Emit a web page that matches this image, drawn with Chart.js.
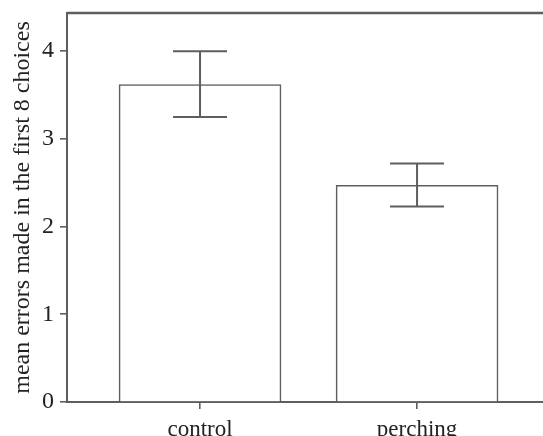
<!DOCTYPE html>
<html>
<head>
<meta charset="utf-8">
<script src="https://cdn.jsdelivr.net/npm/chart.js@4"></script>
<style>
  html, body { margin: 0; padding: 0; background: #fff; overflow: hidden; }
  #wrap { position: relative; width: 600px; height: 436px; }
</style>
</head>
<body>
<div id="wrap"><canvas id="chart"></canvas></div>
<script>
// Datos
const categories = ['control', 'perching'];
const means = [3.62, 2.47];
const errLow = [3.25, 2.23];
const errHigh = [4.0, 2.72];
const yTicks = [0, 1, 2, 3, 4];

const lineColor = '#5e5e5e';
const textColor = '#222';
const serif = "'Liberation Serif', 'Times New Roman', serif";

// Barras de error y marco superior
const errorBars = {
    id: 'errorBars',
    afterDatasetsDraw(chart) {
        const ctx = chart.ctx;
        const xs = chart.scales.x, ys = chart.scales.y;
        ctx.save();
        ctx.strokeStyle = lineColor;
        ctx.lineWidth = 2;
        for (let i = 0; i < means.length; i++) {
            const x = xs.getPixelForValue(i);
            const lo = ys.getPixelForValue(errLow[i]);
            const hi = ys.getPixelForValue(errHigh[i]);
            ctx.beginPath();
            ctx.moveTo(x, lo); ctx.lineTo(x, hi);
            ctx.moveTo(x - 27, lo); ctx.lineTo(x + 27, lo);
            ctx.moveTo(x - 27, hi); ctx.lineTo(x + 27, hi);
            ctx.stroke();
        }
        const a = chart.chartArea;
        ctx.lineWidth = 2.5;
        ctx.beginPath();
        ctx.moveTo(a.left, a.top); ctx.lineTo(a.right, a.top);
        ctx.stroke();
        ctx.restore();
    }
};

const ctx = document.getElementById('chart').getContext('2d');
const chart = new Chart(ctx, {
    type: 'bar',
    data: {
        datasets: [{
            data: means.map((m, i) => ({ x: i, y: m })),
            backgroundColor: '#fff',
            borderColor: lineColor,
            borderWidth: 1.6,
            barThickness: 162
        }]
    },
    options: {
        responsive: true,
        maintainAspectRatio: false,
        animation: false,
        layout: { padding: { top: 13, left: 0, right: 0, bottom: 0 } },
        plugins: { legend: { display: false }, tooltip: { enabled: false } },
        scales: {
            x: {
                type: 'linear',
                offset: false,
                min: -0.613,
                max: 1.843,
                afterBuildTicks: s => { s.ticks = categories.map((c, i) => ({ value: i })); },
                afterFit: s => { s.height = 34; s.paddingLeft = 0; s.paddingRight = 0; },
                ticks: {
                    callback: v => categories[v],
                    color: textColor,
                    font: { family: serif, size: 23 },
                    padding: 7,
                    maxRotation: 0
                },
                grid: { offset: false, drawOnChartArea: false, drawTicks: true, tickLength: 7, color: lineColor, lineWidth: 1.6 },
                border: { display: true, color: lineColor, width: 2 }
            },
            y: {
                min: 0,
                max: 4.435,
                afterBuildTicks: s => { s.ticks = yTicks.map(v => ({ value: v })); },
                afterFit: s => { s.width = 67; s.paddingTop = 0; s.paddingBottom = 0; },
                ticks: {
                    color: textColor,
                    font: { family: serif, size: 24 },
                    padding: 6
                },
                title: {
                    display: true,
                    text: 'mean errors made in the first 8 choices',
                    color: textColor,
                    font: { family: serif, size: 24 },
                    padding: { top: 8, bottom: 0 }
                },
                grid: { drawOnChartArea: false, drawTicks: true, tickLength: 7, color: lineColor, lineWidth: 1.6 },
                border: { display: true, color: lineColor, width: 2 }
            }
        }
    },
    plugins: [errorBars]
});
</script>
</body>
</html>
